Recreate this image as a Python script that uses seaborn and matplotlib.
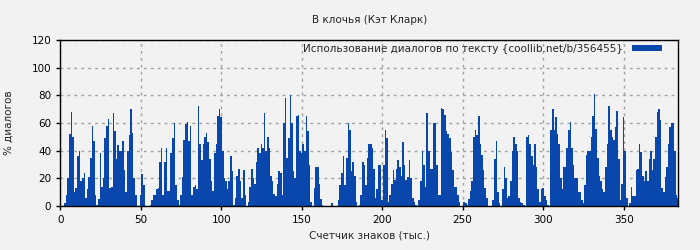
import numpy as np
import matplotlib
matplotlib.use("Agg")
import matplotlib.pyplot as plt
import seaborn as sns

title = "В клочья (Кэт Кларк)"
series_label = "Использование диалогов по тексту {coollib.net/b/356455}"
x_label = "Счетчик знаков (тыс.)"
y_label = "% диалогов"

# share of dialogue per thousand characters, positions 1..384
dialog_1_100 = [
    0, 0, 2, 8, 20, 52, 68, 50, 10, 13,
    36, 40, 18, 20, 24, 6, 12, 21, 35, 58,
    47, 8, 1, 5, 38, 14, 20, 49, 58, 63,
    13, 14, 67, 54, 34, 44, 40, 40, 47, 26,
    10, 40, 51, 70, 53, 20, 8, 0, 0, 8,
    23, 15, 0, 0, 0, 1, 4, 8, 8, 12,
    13, 32, 42, 8, 32, 42, 11, 11, 38, 49,
    60, 15, 4, 1, 8, 21, 48, 59, 61, 47,
    58, 8, 14, 15, 12, 72, 45, 33, 45, 50,
    53, 46, 34, 18, 11, 38, 45, 65, 70, 64,
]
dialog_101_200 = [
    40, 20, 18, 12, 18, 36, 25, 1, 6, 22,
    27, 18, 6, 26, 8, 0, 3, 14, 27, 20,
    16, 32, 42, 38, 45, 42, 67, 40, 50, 42,
    22, 18, 9, 7, 16, 25, 24, 8, 60, 78,
    35, 49, 80, 60, 25, 20, 65, 66, 40, 38,
    45, 40, 65, 54, 30, 3, 0, 13, 28, 28,
    16, 5, 1, 0, 0, 0, 0, 0, 2, 0,
    0, 0, 4, 15, 24, 36, 15, 35, 60, 55,
    25, 32, 22, 3, 0, 1, 8, 32, 30, 15,
    35, 45, 45, 42, 27, 6, 12, 30, 30, 4,
]
dialog_201_300 = [
    30, 55, 49, 3, 8, 16, 26, 19, 27, 33,
    28, 22, 46, 30, 19, 21, 33, 20, 6, 3,
    1, 0, 4, 18, 40, 30, 14, 67, 40, 27,
    27, 60, 60, 30, 8, 8, 71, 70, 66, 54,
    52, 49, 39, 26, 14, 14, 8, 3, 0, 0,
    3, 2, 1, 5, 11, 18, 50, 55, 51, 65,
    45, 37, 26, 13, 6, 0, 0, 0, 4, 34,
    47, 10, 2, 0, 12, 28, 20, 6, 7, 18,
    40, 50, 45, 40, 6, 3, 2, 1, 0, 50,
    51, 45, 36, 30, 45, 28, 12, 3, 12, 13,
]
dialog_301_384 = [
    7, 4, 1, 0, 55, 70, 55, 64, 52, 45,
    20, 12, 28, 28, 42, 55, 61, 42, 30, 20,
    20, 10, 10, 4, 2, 15, 37, 40, 40, 50,
    65, 81, 56, 35, 22, 18, 12, 10, 28, 45,
    72, 55, 50, 48, 57, 69, 34, 4, 16, 64,
    40, 6, 0, 2, 14, 7, 7, 26, 27, 45,
    39, 22, 18, 25, 18, 34, 40, 26, 34, 50,
    68, 70, 62, 13, 10, 21, 28, 45, 57, 60,
    60, 40, 8, 6,
]

dialog = dialog_1_100 + dialog_101_200 + dialog_201_300 + dialog_301_384
positions = np.arange(1, len(dialog) + 1)

bg = "#f2f2f2"
blue = "#0a47ac"
fs = 7.5

sns.set_theme(style="white")
plt.rcParams["font.family"] = ["DejaVu Sans"]

fig = plt.figure(figsize=(7, 2.5), dpi=100, facecolor=bg)
ax = fig.add_axes([0.086, 0.176, 0.883, 0.664])
ax.set_facecolor(bg)

sns.barplot(x=positions, y=dialog, native_scale=True, width=1, color=blue,
            saturation=1, linewidth=0, label=series_label, ax=ax, zorder=2)

ax.set_xlim(0, 384)
ax.set_ylim(0, 120)
ax.set_xticks(range(0, 351, 50))
ax.set_xticklabels([str(v) for v in range(0, 351, 50)])
ax.set_yticks(range(0, 121, 20))
ax.grid(True, color="#a0a0a0", linestyle=(0, (2, 3)), linewidth=1, zorder=0)
ax.set_axisbelow(True)
for s in ax.spines.values():
    s.set_color("black")
    s.set_linewidth(1)
ax.tick_params(axis="both", labelsize=fs, colors="black", length=3, width=1,
               direction="out", bottom=True, left=True)

ax.set_title(title, fontsize=fs, pad=12)
ax.set_xlabel(x_label, fontsize=fs, labelpad=4)
ax.set_ylabel(y_label, fontsize=fs, labelpad=13)

ax.legend(loc="upper right", bbox_to_anchor=(0.977, 0.99), frameon=False,
          markerfirst=False, fontsize=fs, handlelength=2.9, handleheight=0.6,
          borderaxespad=0, borderpad=0.2)

fig.savefig("out.png", dpi=100, facecolor=bg)
